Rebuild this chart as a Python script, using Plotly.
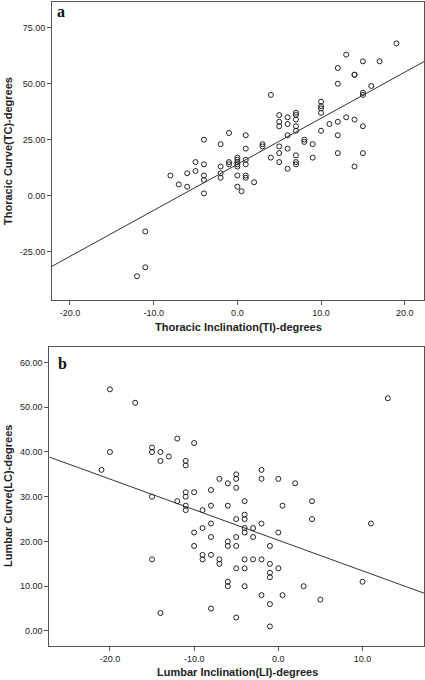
import numpy as np
import plotly.graph_objects as go

# Panel a: Thoracic Inclination (TI) vs Thoracic Curve (TC)
ti = [19, 13, 15, 17, 12, 14, 14, 12, 16, 15, 15, 4, 10, 10, 10, 10, 5, 7, 7, 6,
      13, 12, 11, 14, 7, 5, 6, 5, 7, 15, 10, 7, 12, 6, 1, -1, -4, -2, 3, 3,
      8, 8, 9, 1, 5, 6, 12, 15, 5, 4, 9, 0, 0, 7, 5, -5, -4, -2, -1, -1,
      0, 0, 0, 1, 1, 7, 7, 14, 6, -8, -5, -6, -4, -4, -2, -2, 0, 1, 1, 2,
      -7, -6, -4, 0, 0.5, -11, -11, -12]
tc = [68, 63, 60, 60, 57, 54, 54, 50, 49, 46, 45, 45, 42, 40, 39, 37, 36, 37, 36, 35,
      35, 33, 32, 34, 34, 33, 32, 31, 31, 31, 29, 29, 27, 27, 27, 28, 25, 23, 23, 22,
      25, 24, 23, 21, 22, 21, 19, 19, 19, 17, 17, 17, 16, 18, 15, 15, 14, 13, 15, 14,
      15, 14, 13, 16, 14, 15, 14, 13, 12, 9, 11, 10, 9, 7, 10, 8, 9, 9, 8, 6,
      5, 4, 1, 4, 2, -16, -32, -36]

# Panel b: Lumbar Inclination (LI) vs Lumbar Curve (LC)
li = [-20, -17, 13, -20, -21, -12, -10, -15, -15, -14, -14, -13, -11, -11, -15, -12, -11, -11, -10, -11,
      -8, -7, -6, -5, -5, -5, -4, -6, -8, -2, -2, 0, 2, 0.5, 4, -9, -11, -5, -4, -4,
      4, -10, -9, -8, -4, -4, -3, -2, 0, 11, -8, -5, -3, -6, -6, -10, -5, -1, -15, -9,
      -9, -8, -7, -7, -4, -3, -2, -1, -5, -4, 0, -1, -1, -6, -6, -4, 3, 10, -2, 0.5,
      5, -1, -8, -14, -5, -1]
lc = [54, 51, 52, 40, 36, 43, 42, 41, 40, 40, 38, 39, 38, 37, 30, 29, 31, 30, 31, 28,
      31.5, 34, 33, 35, 34, 32, 29, 28, 28, 36, 34, 34, 33, 28, 29, 27, 27, 25, 26, 25,
      25, 22, 23, 24, 23, 22, 23, 24, 22, 24, 21, 21, 21, 20, 19, 19, 19, 19, 16, 17,
      16, 17, 16, 15, 16, 16, 16, 15, 14, 14, 14, 13, 12, 11, 10, 10, 10, 11, 8, 8,
      7, 6, 5, 4, 3, 1]

a_xticks = [-20, -10, 0, 10, 20]
a_xlabels = ["-20.0", "-10.0", "0.0", "10.0", "20.0"]
a_yticks = [-25, 0, 25, 50, 75]
a_ylabels = ["-25.00", "0.00", "25.00", "50.00", "75.00"]
b_xticks = [-20, -10, 0, 10]
b_xlabels = ["-20.0", "-10.0", "0.0", "10.0"]
b_yticks = [0, 10, 20, 30, 40, 50, 60]
b_ylabels = ["0.00", "10.00", "20.00", "30.00", "40.00", "50.00", "60.00"]

A_XR = [-22.15, 22.3]
A_YR = [-46.6, 86.5]
B_XR = [-27.2, 17.3]
B_YR = [-3.3, 63.4]

W, H = 425, 680
fig = go.Figure()

marker = dict(symbol="circle-open", size=5, color="#222", line=dict(width=1, color="#222"))

def add_panel(x, y, xr, xa, ya):
    fig.add_trace(go.Scatter(x=x, y=y, mode="markers", marker=marker,
                             xaxis=xa, yaxis=ya, showlegend=False, hoverinfo="x+y"))
    k, b = np.polyfit(np.array(x, float), np.array(y, float), 1)
    lx = np.array(xr)
    fig.add_trace(go.Scatter(x=lx, y=k * lx + b, mode="lines",
                             line=dict(color="#333", width=1),
                             xaxis=xa, yaxis=ya, showlegend=False, hoverinfo="skip"))

add_panel(ti, tc, A_XR, "x", "y")
add_panel(li, lc, B_XR, "x2", "y2")

tickfont = dict(family="Liberation Sans, Arial, sans-serif", size=9, color="#222")
axbase = dict(showgrid=False, zeroline=False, showline=True, mirror=True,
              linecolor="#555", linewidth=1, ticks="outside", ticklen=4,
              tickcolor="#555", tickfont=tickfont, fixedrange=True)

def px_x(p):
    return p / W

def px_y(p):
    return 1 - p / H

fig.update_layout(
    width=W, height=H, margin=dict(l=0, r=0, t=0, b=0),
    paper_bgcolor="white", plot_bgcolor="white",
    xaxis=dict(axbase, domain=[px_x(52), px_x(424)], range=A_XR,
               tickvals=a_xticks, ticktext=a_xlabels, anchor="y"),
    yaxis=dict(axbase, domain=[px_y(300), px_y(2)], range=A_YR,
               tickvals=a_yticks, ticktext=a_ylabels, anchor="x"),
    xaxis2=dict(axbase, domain=[px_x(49.3), px_x(424)], range=B_XR,
                tickvals=b_xticks, ticktext=b_xlabels, anchor="y2"),
    yaxis2=dict(axbase, domain=[px_y(645.7), px_y(347.3)], range=B_YR,
                tickvals=b_yticks, ticktext=b_ylabels, anchor="x2"),
)

titlefont = dict(family="Liberation Sans, Arial, sans-serif", size=11, color="#222")
labfont = dict(family="Liberation Serif, Times New Roman, serif", size=16, color="#111")
ann = [
    dict(text="<b>Thoracic Inclination(TI)-degrees</b>", x=px_x(238), y=px_y(327), font=titlefont),
    dict(text="<b>Thoracic Curve(TC)-degrees</b>", x=px_x(8), y=px_y(151), textangle=-90, font=titlefont),
    dict(text="<b>Lumbar Inclination(LI)-degrees</b>", x=px_x(237), y=px_y(672), font=titlefont),
    dict(text="<b>Lumbar Curve(LC)-degrees</b>", x=px_x(8), y=px_y(496), textangle=-90, font=titlefont),
    dict(text="<b>a</b>", x=px_x(61), y=px_y(11), font=labfont),
    dict(text="<b>b</b>", x=px_x(62), y=px_y(363), font=labfont),
]
for a in ann:
    fig.add_annotation(xref="paper", yref="paper", showarrow=False,
                       xanchor="center", yanchor="middle", **a)

fig.write_html("out.html", config={"displayModeBar": False},
               post_script="document.body.style.margin='0';document.body.style.overflow='hidden';")
